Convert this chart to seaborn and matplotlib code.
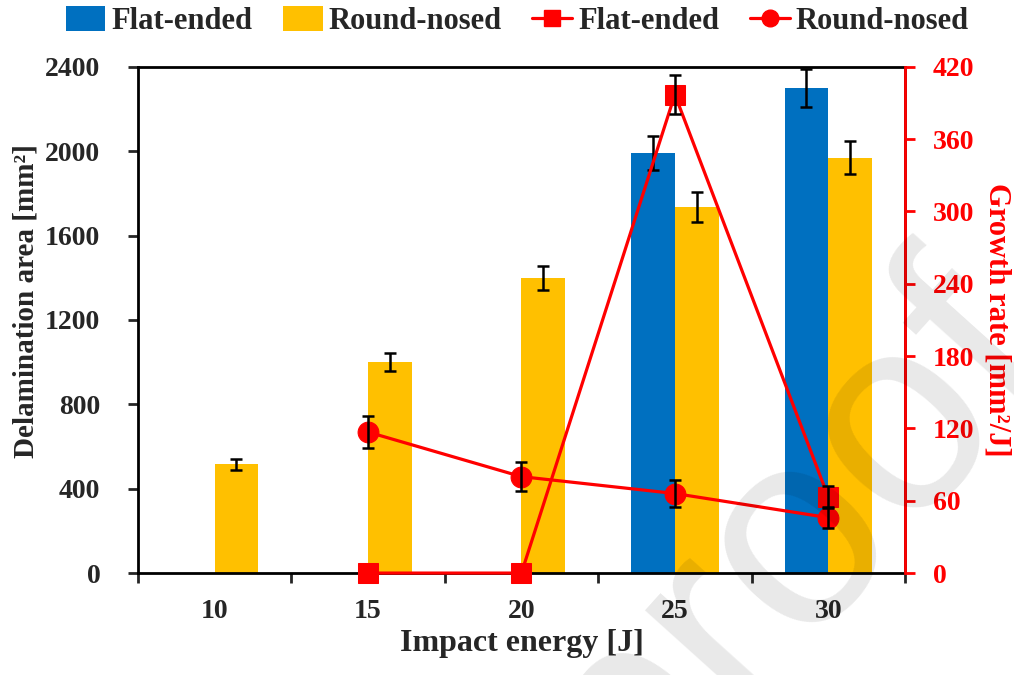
import numpy as np
import pandas as pd
import matplotlib
matplotlib.use("Agg")
import matplotlib.pyplot as plt
import seaborn as sns
from matplotlib.lines import Line2D
from matplotlib.patches import Patch

# ---------------- data ----------------
energies = ["10", "15", "20", "25", "30"]
impactors = ["Flat-ended", "Round-nosed"]

area_flat = [0, 0, 0, 1990, 2300]
area_flat_err = [0, 0, 0, 80, 90]
area_round = [515, 1000, 1400, 1737, 1970]
area_round_err = [24, 41, 58, 71, 80]

growth_flat = [np.nan, 0, 0, 397, 63]
growth_flat_err = [np.nan, 0, 0, 16, 9]
growth_round = [np.nan, 117, 80, 66, 46]
growth_round_err = [np.nan, 13, 12, 11, 9]

left_ticks = [0, 400, 800, 1200, 1600, 2000, 2400]
right_ticks = [0, 60, 120, 180, 240, 300, 360, 420]

# ---------------- style ----------------
BLUE = "#0070C0"
YELLOW = "#FFC000"
RED = "#FF0000"

sns.set_style("ticks")
plt.rcParams["font.family"] = ["Liberation Serif", "DejaVu Serif"]
plt.rcParams["font.weight"] = "bold"
plt.rcParams["axes.labelweight"] = "bold"

fig = plt.figure(figsize=(10.14, 6.75), dpi=100)
ax = fig.add_axes([0.136, 0.151, 0.7565, 0.750])

df = pd.DataFrame({
    "energy": energies * 2,
    "impactor": [impactors[0]] * 5 + [impactors[1]] * 5,
    "area": area_flat + area_round,
})

sns.barplot(data=df, x="energy", y="area", hue="impactor", order=energies,
            hue_order=impactors, palette=[BLUE, YELLOW], width=0.57,
            saturation=1, errorbar=None, legend=False, ax=ax, linewidth=0, zorder=2)

for cont, errs in zip(ax.containers, [area_flat_err, area_round_err]):
    for bar, e in zip(cont, errs):
        if e > 0:
            ax.errorbar(bar.get_x() + bar.get_width() / 2, bar.get_height(), yerr=e,
                        fmt="none", ecolor="black", elinewidth=1.8, capsize=4,
                        capthick=1.8, zorder=3)

ax.set_xlim(-0.5, 4.5)
ax.set_ylim(0, 2400)
ax.set_yticks(left_ticks)
ax.set_xticks(range(len(energies)))
ax.set_xticklabels(energies)
ax.set_xticks(np.arange(-0.5, len(energies), 1.0), minor=True)
ax.tick_params(axis="x", which="major", length=0, labelsize=20, pad=19)
ax.tick_params(axis="x", which="minor", length=7, width=2, direction="out")
ax.tick_params(axis="y", length=7, width=2, direction="out", labelsize=20, pad=20)
ax.set_xlabel("Impact energy [J]", fontsize=23)
ax.xaxis.set_label_coords(0.5, -0.11)
ax.set_ylabel("Delamination area [mm²]", fontsize=21)
ax.yaxis.set_label_coords(-0.128, 0.5375)
for s in ax.spines.values():
    s.set_visible(True)
    s.set_linewidth(2)
    s.set_color("black")

# ---------------- growth-rate lines ----------------
ax2 = ax.twinx()
xpos = np.arange(len(energies))
sns.lineplot(x=xpos, y=growth_flat, ax=ax2, color=RED, marker="s", markersize=14,
             markeredgecolor=RED, linewidth=2.3, clip_on=False, zorder=4)
sns.lineplot(x=xpos, y=growth_round, ax=ax2, color=RED, marker="o", markersize=15,
             markeredgecolor=RED, linewidth=2.3, clip_on=False, zorder=4)
for vals, errs in [(growth_flat, growth_flat_err), (growth_round, growth_round_err)]:
    for x, v, e in zip(xpos, vals, errs):
        if not np.isnan(v) and e > 0:
            ax2.errorbar(x, v, yerr=e, fmt="none", ecolor="black", elinewidth=1.8,
                         capsize=4, capthick=1.8, zorder=5)

ax2.set_ylim(0, 420)
ax2.set_yticks(right_ticks)
ax2.tick_params(axis="y", length=7, width=2, direction="out", colors=RED,
                labelsize=20, pad=13)
ax2.set_ylabel("Growth rate [mm²/J]", fontsize=22, color=RED, rotation=270,
               va="center")
ax2.yaxis.set_label_coords(1.12, 0.5)
for k in ["left", "top", "bottom"]:
    ax2.spines[k].set_visible(False)
ax2.spines["right"].set_color(RED)
ax2.spines["right"].set_linewidth(2)

# ---------------- legend ----------------
handles = [
    Patch(facecolor=BLUE, edgecolor="none"),
    Patch(facecolor=YELLOW, edgecolor="none"),
    Line2D([], [], color=RED, marker="s", markersize=12, linewidth=2.3),
    Line2D([], [], color=RED, marker="o", markersize=12, linewidth=2.3),
]
labels = ["Flat-ended", "Round-nosed", "Flat-ended", "Round-nosed"]
fig.legend(handles, labels, loc="upper center", bbox_to_anchor=(0.51, 1.032), ncol=4,
           frameon=False, fontsize=22, handlelength=1.3, handleheight=0.9,
           handletextpad=0.2, columnspacing=1.0)

# ---------------- watermark ----------------
fig.text(0.995, 0.527, "Journal Pre-proof", fontsize=200, color="black", alpha=0.09,
         rotation=48, ha="right", va="center", rotation_mode="anchor",
         family="Liberation Sans", fontweight="normal", zorder=10)

fig.savefig("out.png", dpi=100)
